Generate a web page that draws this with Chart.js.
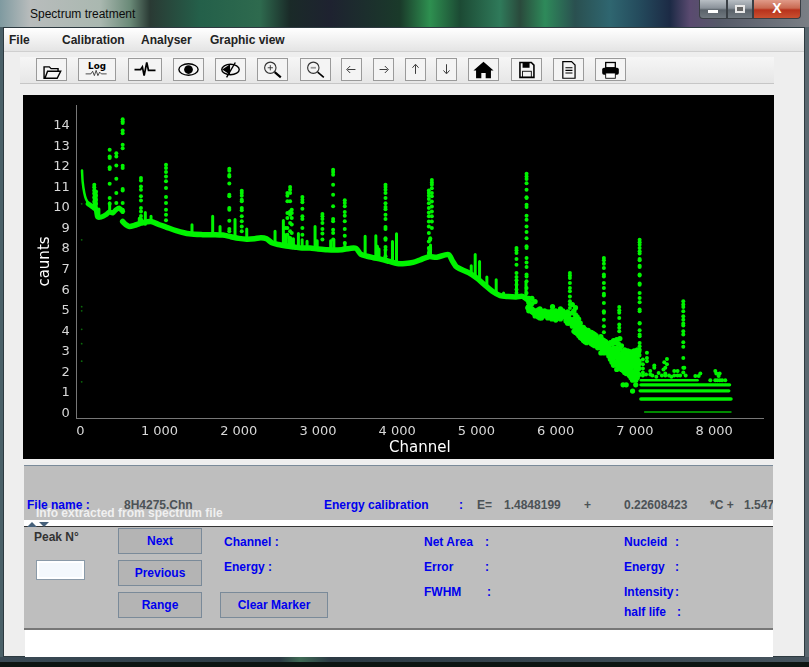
<!DOCTYPE html>
<html>
<head>
<meta charset="utf-8">
<title>Spectrum treatment</title>
<script src="https://cdn.jsdelivr.net/npm/chart.js@4"></script>
<style>
  html, body { margin: 0; padding: 0; width: 809px; height: 667px; overflow: hidden; background: #0d1512; }
  #desk { position: absolute; left: 0; top: 0; width: 809px; height: 27px;
    background: linear-gradient(90deg, #7f9aa0 0, #b8bcbc 30px, #aab8b0 100px, #6a8a78 130px, #2a3a34 150px, #24604a 200px, #2e6a4e 260px, #1a2a28 290px, #1e2230 330px, #1a3a2a 400px, #2e9050 430px, #1c4a34 460px, #2f7a5a 500px, #2a4a3c 520px, #2e8a5a 545px, #2a5050 575px, #2f6670 610px, #244a5c 640px, #1c2a45 670px, #5a4a70 690px, #555a68 720px, #7a7f85 809px); }
  #sideL { position: absolute; left: 0; top: 27px; width: 3px; height: 635px; background: #4a6068; }
  #sideR { position: absolute; left: 805px; top: 27px; width: 4px; height: 635px; background: #5a6870; }
  #foot { position: absolute; left: 0; top: 657px; width: 809px; height: 5px; background: linear-gradient(90deg, #3a4a55, #2c3a44 280px, #3f6a55 300px, #2c3a44 330px, #46545e 809px); }
  #win { position: absolute; left: 3px; top: 27px; width: 802px; height: 630px; background: #eeeeee; border: 1px solid #2d3a40; box-sizing: border-box; }
  #menu { position: absolute; left: 4px; top: 28px; width: 800px; height: 23px; background: linear-gradient(#ffffff, #e4e4e4); border-bottom: 1px solid #cfcfcf; }
  #tools { position: absolute; left: 20px; top: 57px; width: 754px; height: 26px; background: linear-gradient(#f6f6f6, #e6e6e6); border-bottom: 1px solid #c6c6c6; }
  .t { position: absolute; font: bold 12px "Liberation Sans", sans-serif; line-height: 14px; white-space: nowrap; color: #0000ee; }
  .k { color: #222222; font-weight: bold; }
  .g { color: #4c5256; }
  .btn { position: absolute; box-sizing: border-box; background: #f4f4f4; border: 1px solid #9a9a9a; }
  .btn svg { position: absolute; left: 0; top: 0; width: 100%; height: 100%; }
  .pbtn { position: absolute; box-sizing: border-box; background: #b4b4b4; border: 1px solid #7a8a99; text-align: center; font: bold 12px "Liberation Sans", sans-serif; color: #0000ee; line-height: 25px; }
  .cap { position: absolute; top: 0; height: 19px; box-sizing: border-box; border: 1px solid #3a3f45; border-top: 0; background: linear-gradient(#b8bec4, #8a929a 45%, #5a626a 55%, #70787f); }
  #chart { position: absolute; left: 23px; top: 95px; background: #000000; }
  #p1 { position: absolute; left: 24px; top: 465px; width: 749px; height: 55px; background: #bebebe; border-top: 1px solid #7a8a99; }
  #split { position: absolute; left: 24px; top: 520px; width: 749px; height: 7px; background: #ffffff; border-bottom: 1px solid #333; box-sizing: border-box; }
  #p2 { position: absolute; left: 24px; top: 527px; width: 749px; height: 101px; background: #bebebe; border-bottom: 2px solid #777; }
  #txt { position: absolute; left: 25px; top: 630px; width: 748px; height: 27px; background: #ffffff; }
  #peak { position: absolute; left: 37px; top: 561px; width: 47px; height: 18px; box-sizing: border-box; background: #f4f8fc; border: 2px solid #ffffff; outline: 1px solid #8a9aa8; }
</style>
</head>
<body>
<div id="desk"></div>
<div id="sideL"></div>
<div id="sideR"></div>
<div id="foot"></div>
<div id="win"></div>
<div class="t" style="left:30px;top:7px;color:#0c0c0c;font-weight:normal;font-size:12px">Spectrum treatment</div>
<div class="cap" style="left:699px;width:28px;border-radius:0 0 0 4px"></div>
<div style="position:absolute;left:708px;top:10px;width:10px;height:3px;background:#fff"></div>
<div class="cap" style="left:727px;width:26px"></div>
<div style="position:absolute;left:735px;top:5px;width:10px;height:8px;box-sizing:border-box;border:2px solid #e8e8e8;background:#666"></div>
<div class="cap t" style="left:753px;width:48px;background:linear-gradient(#e09a88,#c96a52 45%,#b8321c 55%,#c95030);color:#fff;text-align:center;line-height:17px;font-size:14px;border-radius:0 0 4px 0">X</div>
<div id="menu"></div>
<div class="t k" style="left:9px;top:33px">File</div>
<div class="t k" style="left:62px;top:33px">Calibration</div>
<div class="t k" style="left:141px;top:33px">Analyser</div>
<div class="t k" style="left:210px;top:33px">Graphic view</div>
<div id="tools"></div>
<div id="toolbar"></div>

<canvas id="chart" width="751" height="364"></canvas>

<div id="p1"></div>
<div class="t" style="left:27px;top:498px">File name  :</div>
<div class="t g" style="left:124px;top:498px">8H4275.Chn</div>
<div class="t" style="left:324px;top:498px">Energy calibration</div>
<div class="t" style="left:459px;top:498px">:</div>
<div class="t g" style="left:477px;top:498px">E=</div>
<div class="t g" style="left:504px;top:498px">1.4848199</div>
<div class="t g" style="left:584px;top:498px">+</div>
<div class="t g" style="left:624px;top:498px">0.22608423</div>
<div class="t g" style="left:710px;top:498px">*C +</div>
<div class="t g" style="left:744px;top:498px;width:29px;overflow:hidden">1.547</div>
<div class="t" style="left:36px;top:506px;color:#f0f0f0">Info extracted from spectrum file</div>
<div id="split"></div>
<div style="position:absolute;left:27px;top:522px;width:0;height:0;border:5px solid transparent;border-top:0;border-bottom-color:#45607a"></div>
<div style="position:absolute;left:39px;top:522px;width:0;height:0;border:5px solid transparent;border-bottom:0;border-top-color:#45607a"></div>
<div id="p2"></div>
<div class="t" style="left:34px;top:530px;color:#333">Peak N°</div>
<div id="peak"></div>
<div class="pbtn" style="left:118px;top:528px;width:84px;height:26px">Next</div>
<div class="pbtn" style="left:118px;top:560px;width:84px;height:26px">Previous</div>
<div class="pbtn" style="left:118px;top:592px;width:84px;height:26px">Range</div>
<div class="pbtn" style="left:220px;top:592px;width:108px;height:26px">Clear Marker</div>
<div class="t" style="left:224px;top:535px">Channel  :</div>
<div class="t" style="left:224px;top:560px">Energy   :</div>
<div class="t" style="left:424px;top:535px">Net Area</div>
<div class="t" style="left:485px;top:535px">:</div>
<div class="t" style="left:424px;top:560px">Error</div>
<div class="t" style="left:485px;top:560px">:</div>
<div class="t" style="left:424px;top:585px">FWHM</div>
<div class="t" style="left:487px;top:585px">:</div>
<div class="t" style="left:624px;top:535px">Nucleid</div>
<div class="t" style="left:675px;top:535px">:</div>
<div class="t" style="left:624px;top:560px">Energy</div>
<div class="t" style="left:675px;top:560px">:</div>
<div class="t" style="left:624px;top:585px">Intensity</div>
<div class="t" style="left:675px;top:585px">:</div>
<div class="t" style="left:624px;top:605px">half life</div>
<div class="t" style="left:677px;top:605px">:</div>
<div id="txt"></div>

<script>
// axis labels
const xTicks = [0, 1000, 2000, 3000, 4000, 5000, 6000, 7000, 8000];
const yTicks = [0, 1, 2, 3, 4, 5, 6, 7, 8, 9, 10, 11, 12, 13, 14];

// continuum
const tailChannels = [22, 30, 51, 72, 114];
const tailCounts = [11.82, 11.28, 10.72, 10.43, 10.15];
const lowChannels = [100, 156, 199, 220, 262, 325, 367, 409, 451, 493, 535];
const lowCounts = [10.2, 10.04, 9.91, 9.55, 9.55, 9.67, 9.8, 9.75, 9.91, 9.99, 9.83];
const baseChannels = [535, 577, 619, 683, 767, 893, 998, 1082, 1209, 1377, 1545, 1700, 1800, 1900, 2000, 2100, 2200, 2280, 2350, 2420, 2500, 2600, 2700, 2800, 2900, 3000, 3100, 3200, 3300, 3400, 3480, 3540, 3620, 3700, 3800, 3900, 4000, 4100, 4200, 4300, 4400, 4500, 4646, 4700, 4750, 4900, 5000, 5100, 5200, 5300, 5400, 5500, 5580, 5640];
const baseCounts = [9.34, 9.18, 9.1, 9.15, 9.26, 9.34, 9.18, 9.07, 8.9, 8.74, 8.7, 8.7, 8.68, 8.6, 8.52, 8.48, 8.5, 8.55, 8.5, 8.3, 8.22, 8.15, 8.1, 8.05, 8.05, 8.0, 7.97, 7.95, 7.97, 8.03, 8.03, 7.75, 7.65, 7.58, 7.5, 7.4, 7.3, 7.3, 7.35, 7.49, 7.63, 7.6, 7.73, 7.4, 7.13, 6.85, 6.6, 6.27, 5.95, 5.74, 5.69, 5.67, 5.7, 5.55];
// middle of the noisy stretch
const coreChannels = [5660, 5750, 5950, 6100, 6150, 6250, 6350, 6450, 6550, 6700, 6800, 6950, 7040];
const coreCounts = [5.15, 4.85, 4.82, 4.8, 4.65, 4.3, 3.9, 3.7, 3.45, 3.05, 2.7, 2.45, 2.45];

// peaks drawn as separate dots
const peakChannels = [535, 371, 455, 177, 198, 766, 1082, 1881, 2038, 2648, 2614, 2669, 2590, 2803, 3056, 3191, 3338, 3852, 4437, 4399, 4416, 5505, 5632, 6179, 6608, 6802, 7059, 7610];
const peakCounts = [
  [14.31, 14.2, 14.12, 13.76, 13.63, 13.07, 12.9, 12.05, 11.94, 10.92, 10.85, 10.24, 9.91],
  [12.82, 12.5, 12.42, 11.98, 11.89, 11.17, 10.48, 10.2],
  [12.66, 12.5, 12.06, 11.42, 10.72, 10.24],
  [11.13, 11.0, 10.85, 10.7, 10.5, 10.3, 10.1],
  [10.8, 10.6, 10.4, 10.2, 10.0],
  [11.45, 11.33, 11.04, 10.88, 10.56, 10.36, 9.99, 9.83, 9.6, 9.45],
  [12.1, 11.94, 11.74, 11.53, 11.29, 10.97, 10.53, 10.24, 9.91, 9.67, 9.4],
  [11.9, 11.8, 11.6, 11.53, 11.18, 10.64, 10.56, 10, 9.91, 9.38, 8.98, 8.87],
  [10.83, 10.72, 10.59, 10.4, 10.32, 10, 9.88, 9.59, 9.35, 9.1, 8.87],
  [11.01, 10.88, 10.72, 10.32, 9.83, 9.67, 9.27, 8.86, 8.54],
  [10.72, 10.59, 10.32, 9.75, 9.51, 9.02, 8.7],
  [9.91, 9.75, 9.51, 9.19, 8.78, 8.46],
  [9.02, 8.54],
  [10.53, 10.4, 10.27, 9.96, 9.59, 9.46, 9.02, 8.7],
  [9.7, 9.59, 9.46, 9.27, 8.98, 8.75, 8.46],
  [11.85, 11.74, 11.61, 11.13, 10.64, 10.08, 9.46, 9.35, 8.94, 8.78, 8.46],
  [10.37, 10.24, 10.08, 9.8, 9.62, 9.35, 8.98, 8.65, 8.3],
  [11.12, 11.01, 10.88, 10.72, 10.48, 10.23, 10.04, 9.94, 9.67, 9.46, 9.07, 8.97, 8.53, 8.45, 8.1, 7.97, 7.65],
  [11.36, 11.24, 11.12, 10.96, 10.72, 10.56, 10.31, 10.07, 9.83, 9.59, 9.34, 9.02],
  [10.85, 10.72, 10.59, 10.43, 10.23, 9.99, 9.78, 9.59, 9.34, 9.1, 8.78, 8.37, 8.05, 7.81],
  [8.53, 8.45, 8.05, 7.97],
  [8.05, 7.94, 7.81, 7.52, 7.24, 6.84, 6.64, 6.48, 6.27, 6.03, 5.87],
  [11.66, 11.53, 11.4, 11.2, 10.88, 10.52, 10.48, 10.15, 10.04, 9.62, 9.42, 9.1, 8.83, 8.53, 8.13, 8.05, 7.56, 7.35, 7.13, 6.76, 6.67, 6.43, 6.11, 5.87, 5.62],
  [6.84, 6.71, 6.59, 6.35, 6.11, 5.95, 5.7, 5.46, 5.3, 5.14],
  [7.56, 7.45, 7.29, 7.08, 6.76, 6.67, 6.35, 6.11, 5.83, 5.74, 5.38, 4.98, 4.9, 4.57, 4.25, 3.96],
  [5.19, 5.02, 4.9, 4.65, 4.33, 4.17, 4.01],
  [8.45, 8.33, 8.21, 8.05, 7.89, 7.78, 7.52, 7.45, 7.19, 7.13, 6.76, 6.71, 6.32, 6.27, 5.87, 5.62, 5.41, 5.06, 4.98, 4.41, 4.38, 4.06, 3.85, 3.76, 3.44, 3.28, 3.12],
  [5.46, 5.3, 5.19, 4.98, 4.73, 4.57, 4.38, 4.28, 4.01, 3.85, 3.47, 3.25, 2.71, 2.23, 2.0]
];

// short solid spikes
const spikeChannels = [177, 200, 235, 371, 745, 821, 893, 1410, 1671, 1764, 1953, 2101, 2458, 2563, 2590, 2630, 2660, 2690, 2753, 2800, 2862, 2963, 2990, 3160, 3200, 3340, 3595, 3730, 3750, 3770, 3850, 3940, 3991, 4400, 4420, 4934, 4984, 5039, 5131, 5249, 5342, 5505, 5625];
const spikeBases = [10.0, 9.9, 9.55, 9.8, 9.2, 9.2, 9.3, 8.72, 8.68, 8.68, 8.55, 8.48, 8.25, 8.18, 8.15, 8.15, 8.1, 8.1, 8.08, 8.05, 8.05, 8.03, 8.0, 7.97, 7.95, 7.97, 7.65, 7.6, 7.6, 7.5, 7.45, 7.4, 7.3, 7.6, 7.6, 6.8, 6.6, 6.5, 6.27, 5.88, 5.7, 5.7, 5.7];
const spikeTops = [11.1, 10.75, 9.95, 10.25, 9.5, 9.78, 9.59, 9.18, 9.59, 9.1, 9.43, 8.98, 8.86, 9.39, 8.7, 8.6, 8.5, 8.5, 8.75, 8.45, 8.38, 9.1, 8.4, 8.4, 8.45, 8.3, 8.62, 8.65, 8.13, 8.0, 7.95, 8.37, 8.74, 8.05, 8.2, 7.19, 7.73, 7.4, 6.64, 6.51, 5.87, 6.5, 6.4];

// noisy stretch, column by column
const noiseChannels = [5660, 5700, 5740, 5780, 5800, 5820, 5860, 5900, 5950, 5960, 6000, 6040, 6060, 6090, 6130, 6150, 6170, 6210, 6230, 6250, 6270, 6290, 6310, 6330, 6350, 6370, 6390, 6410, 6430, 6450, 6470, 6490, 6510, 6530, 6570, 6590, 6610, 6630, 6650, 6670, 6690, 6710, 6730, 6750, 6770, 6790, 6810, 6830, 6850, 6870, 6890, 6910, 6930, 6950, 6970, 6990, 7010, 7030, 7050];
const noiseCounts = [
  [5.6, 5.4, 5.2, 5.0], [5.6, 5.35, 5.1, 4.95], [5.45, 5.0, 4.85, 4.75], [5.05, 4.85, 4.7], [5.1, 4.95, 4.8, 4.65],
  [5.0, 4.85, 4.75, 4.65], [5.0, 4.9, 4.75], [4.95, 4.85, 4.75, 4.65], [5.0, 4.9, 4.75, 4.6],
  [5.2], [5.0, 4.85, 4.7, 4.55], [4.95, 4.8, 4.65], [5.1, 4.7, 4.6], [5.0, 4.85, 4.75], [4.9, 4.75, 4.6, 4.5], [4.95, 4.4],
  [4.85, 4.6, 4.4], [5.3, 4.9, 4.5, 4.25], [5.0, 4.6, 4.3, 4.0], [5.15, 4.8, 4.4, 4.1, 3.95], [4.7, 4.45, 4.2, 3.9], [4.6, 4.3, 4.0, 3.8], [4.4, 4.15, 3.95, 3.7],
  [4.2, 4.05, 3.85, 3.65], [4.2, 3.9, 3.7, 3.55], [4.1, 3.95, 3.75, 3.5], [4.05, 3.85, 3.6, 3.45], [4.05, 3.85, 3.65], [3.95, 3.7, 3.5], [3.95, 3.8, 3.6, 3.4], [3.9, 3.7, 3.5, 3.35],
  [3.85, 3.65, 3.45, 3.3], [3.8, 3.55, 3.3], [3.65, 3.45, 3.2], [3.75, 3.45, 3.2, 2.95], [3.6, 3.3, 3.05], [3.55, 3.3, 3.1, 2.95], [3.5, 3.15, 3.0],
  [3.4, 3.2, 2.95], [3.3, 3.05, 2.8], [3.45, 3.1, 2.9, 2.65], [3.4, 3.0, 2.7, 2.5], [3.55, 3.2, 2.9, 2.55, 2.35], [3.45, 3.05, 2.75, 2.4], [3.6, 3.2, 2.85, 2.5, 2.15], [3.4, 3.0, 2.65, 2.3],
  [3.65, 3.15, 2.8, 2.4, 2.25], [3.3, 2.9, 2.6, 2.3, 2.15], [3.0, 2.7, 2.4, 2.1, 1.4], [3.1, 2.8, 2.5, 2.25, 2.0], [2.95, 2.65, 2.35, 2.1, 1.95, 1.4], [3.05, 2.8, 2.5, 2.25, 2.0],
  [3.0, 2.7, 2.4, 2.1, 1.85], [3.0, 2.8, 2.55, 2.25, 2.0, 1.75], [2.95, 2.7, 2.4, 2.05, 1.85, 1.63, 1.1], [3.05, 2.8, 2.55, 2.3, 2.0, 1.75], [3.0, 2.75, 2.45, 2.15, 1.85, 1.63, 1.4], [3.1, 2.9, 2.65, 2.35, 2.0, 1.75],
  [3.05, 2.85, 2.55, 2.2, 1.9]
];

// horizontal low-count rows
const rowCounts = [1.63, 1.4, 1.11, 0.71];
const rowStarts = [7075, 7075, 7065, 7075];
const rowEnds = [7790, 8195, 8185, 8212];
const rowWidths = [2.5, 3.2, 3.2, 3.5];
const floorCount = 0.08;
const floorChannels = [7122, 8212];

// loose points above the rows
const looseChannels = [7151, 7151, 7151, 7100, 7100, 7100, 7100, 7100, 7244, 7244, 7404, 7404, 7370, 7360, 7383, 7383, 7383, 7496, 7496, 7538, 7538, 7193, 7193, 7299, 7623, 7825, 7804, 7762, 8014, 8027, 8069, 8056, 7951, 8014, 8040, 8070, 8100, 8140, 7140, 7220, 7270, 7340, 7430, 7460, 7570, 7640];
const looseCounts = [2.96, 2.71, 2.55, 2.63, 2.4, 2.2, 2.0, 1.85, 2.34, 2.23, 2.66, 2.4, 2.5, 2.15, 2.23, 1.95, 1.85, 2.07, 1.85, 2.07, 1.85, 2.07, 1.9, 1.98, 2.23, 1.95, 1.83, 1.83, 2.07, 1.95, 1.95, 1.83, 1.63, 1.63, 1.63, 1.63, 1.63, 1.63, 1.9, 1.85, 1.8, 1.85, 1.85, 1.8, 1.85, 1.85];

// faint points at the very start
const faintChannels = [18, 18, 18, 18, 18, 18, 18, 18];
const faintCounts = [10.2, 8.45, 5.2, 5.0, 4.1, 3.4, 2.55, 1.55];

const green = "#00f400";

function zip(xs, ys) {
  return xs.map((x, i) => ({ x: x, y: ys[i] }));
}

function spread(xs, yLists) {
  const pts = [];
  xs.forEach((x, i) => yLists[i].forEach(y => pts.push({ x: x, y: y })));
  return pts;
}

function lineSet(data, width, color, bend) {
  return { data: data, showLine: true, spanGaps: false, borderColor: color || green, borderWidth: width, pointRadius: 0, tension: bend || 0, borderJoinStyle: "round", borderCapStyle: "round" };
}

function dotSet(data, radius, color) {
  return { data: data, showLine: false, backgroundColor: color || green, borderWidth: 0, pointRadius: radius };
}

const spikeData = [];
spikeChannels.forEach((c, i) => {
  spikeData.push({ x: c, y: spikeBases[i] }, { x: c, y: spikeTops[i] }, { x: c, y: null });
});

const datasets = [
  dotSet(zip(faintChannels, faintCounts), 0.9, "#0b6a0b"),
  lineSet(zip(tailChannels, tailCounts), 2.5, green, 0.3),
  lineSet(zip(lowChannels, lowCounts), 5, green, 0.3),
  lineSet(zip(baseChannels, baseCounts), 5.5, green, 0.3),
  lineSet(zip(coreChannels, coreCounts), 7, green),
  lineSet(spikeData, 3),
  dotSet(spread(peakChannels, peakCounts), 2),
  dotSet(spread(noiseChannels, noiseCounts), 2.6),
  dotSet(zip(looseChannels, looseCounts), 2)
];
rowCounts.forEach((count, i) => {
  datasets.push(lineSet([{ x: rowStarts[i], y: count }, { x: rowEnds[i], y: count }], rowWidths[i]));
});
datasets.push(lineSet(floorChannels.map(c => ({ x: c, y: floorCount })), 1.4, "#00b800"));

const axisFont = { family: "DejaVu Sans", size: 13 };

new Chart(document.getElementById("chart"), {
  type: "scatter",
  data: { datasets: datasets },
  options: {
    responsive: false,
    animation: false,
    layout: { padding: { top: 10, right: 11, left: 0, bottom: 0 } },
    plugins: { legend: { display: false }, tooltip: { enabled: false } },
    scales: {
      x: {
        type: "linear",
        min: -45,
        max: 8616,
        afterBuildTicks: s => { s.ticks = xTicks.map(v => ({ value: v })); },
        afterFit: s => { s.height = 41; },
        grid: { display: false, drawTicks: true, tickLength: 3, tickColor: "#888" },
        border: { color: "#777", display: true },
        ticks: {
          color: "#d8d8d8", font: axisFont, padding: 3, maxRotation: 0, autoSkip: false,
          callback: v => v === 0 ? "0" : Math.floor(v / 1000) + " 000"
        },
        title: { display: true, text: "Channel", color: "#fff", font: { family: "DejaVu Sans", size: 15 }, padding: { top: 0, bottom: 2 } }
      },
      y: {
        type: "linear",
        min: -0.21,
        max: 15,
        afterBuildTicks: s => { s.ticks = yTicks.map(v => ({ value: v })); },
        afterFit: s => { s.width = 53.7; s.paddingTop = 0; s.paddingBottom = 0; },
        grid: { display: false, drawTicks: true, tickLength: 3, tickColor: "#888" },
        border: { color: "#777", display: true },
        ticks: { color: "#d8d8d8", font: axisFont, padding: 4, autoSkip: false },
        title: { display: true, text: "caunts", color: "#fff", font: { family: "DejaVu Sans", size: 15 }, padding: { top: 13, bottom: 0 } }
      }
    }
  }
});

// toolbar buttons, plain line icons
const toolButtons = [
  [36, 31, '<path d="M7 9h6l2 2h8v3H11l-3 8H7zM11 14h15l-4 8H8z" fill="none" stroke="#000" stroke-width="1.6"/>'],
  [78, 38, '<path d="M6 17h6l2-3 2 5 2-6 2 6 2-4 2 2h6" fill="none" stroke="#333"/><text x="19" y="11" text-anchor="middle" font-size="10" font-weight="bold" font-family="DejaVu Sans">Log</text>'],
  [128, 34, '<path d="M5 12h7l2-3 2 10 3-15 2 9h8" fill="none" stroke="#000" stroke-width="2"/>'],
  [173, 31, '<ellipse cx="15.5" cy="12" rx="11" ry="6.5" fill="none" stroke="#000" stroke-width="1.6"/><circle cx="15.5" cy="12" r="5" fill="#000"/>'],
  [215, 31, '<ellipse cx="15.5" cy="12" rx="10" ry="6" fill="none" stroke="#000" stroke-width="1.6"/><path d="M6 12l9-6v12z" fill="#000"/><path d="M21 4L11 21" stroke="#000" stroke-width="1.6"/>'],
  [257, 31, '<circle cx="13" cy="10" r="6.5" fill="none" stroke="#333" stroke-width="1.3"/><path d="M10 10h6M13 7v6" stroke="#333"/><path d="M18 15l7 6" stroke="#000" stroke-width="2.4"/>'],
  [300, 31, '<circle cx="13" cy="10" r="6.5" fill="none" stroke="#333" stroke-width="1.3"/><path d="M10 10h6" stroke="#999" stroke-width="2"/><path d="M18 15l7 6" stroke="#000" stroke-width="1.8"/>'],
  [341, 21, '<path d="M15 12H6M9 8l-4 4 4 4" fill="none" stroke="#222"/>'],
  [373, 21, '<path d="M6 12h9M12 8l4 4-4 4" fill="none" stroke="#222"/>'],
  [405, 21, '<path d="M10.5 17V7M7 10l3.5-4 3.5 4" fill="none" stroke="#222"/>'],
  [436, 21, '<path d="M10.5 6v10M7 13l3.5 4 3.5-4" fill="none" stroke="#222"/>'],
  [468, 31, '<path d="M15.5 3L4 13h3v9h6v-6h5v6h6v-9h3z" fill="#000"/>'],
  [511, 31, '<path d="M8 4h13l3 3v14H8z" fill="none" stroke="#000" stroke-width="1.8"/><rect x="11" y="4" width="8" height="6" fill="#000"/><rect x="11" y="14" width="10" height="7" fill="none" stroke="#000"/>'],
  [553, 31, '<path d="M9 3h10l4 4v15H9z" fill="none" stroke="#000" stroke-width="1.4"/><path d="M12 10h8M12 13h8M12 16h8" stroke="#000" stroke-width="1.4"/>'],
  [595, 31, '<rect x="6" y="10" width="19" height="8" rx="2" fill="#000"/><rect x="10" y="4" width="11" height="6" fill="none" stroke="#000" stroke-width="1.5"/><rect x="10" y="16" width="11" height="6" fill="#fff" stroke="#000"/>']
];
document.getElementById("toolbar").innerHTML = toolButtons.map(b =>
  `<div class="btn" style="left:${b[0]}px;top:58px;width:${b[1]}px;height:23px"><svg viewBox="0 0 ${b[1]} 24">${b[2]}</svg></div>`
).join("");
</script>
</body>
</html>
